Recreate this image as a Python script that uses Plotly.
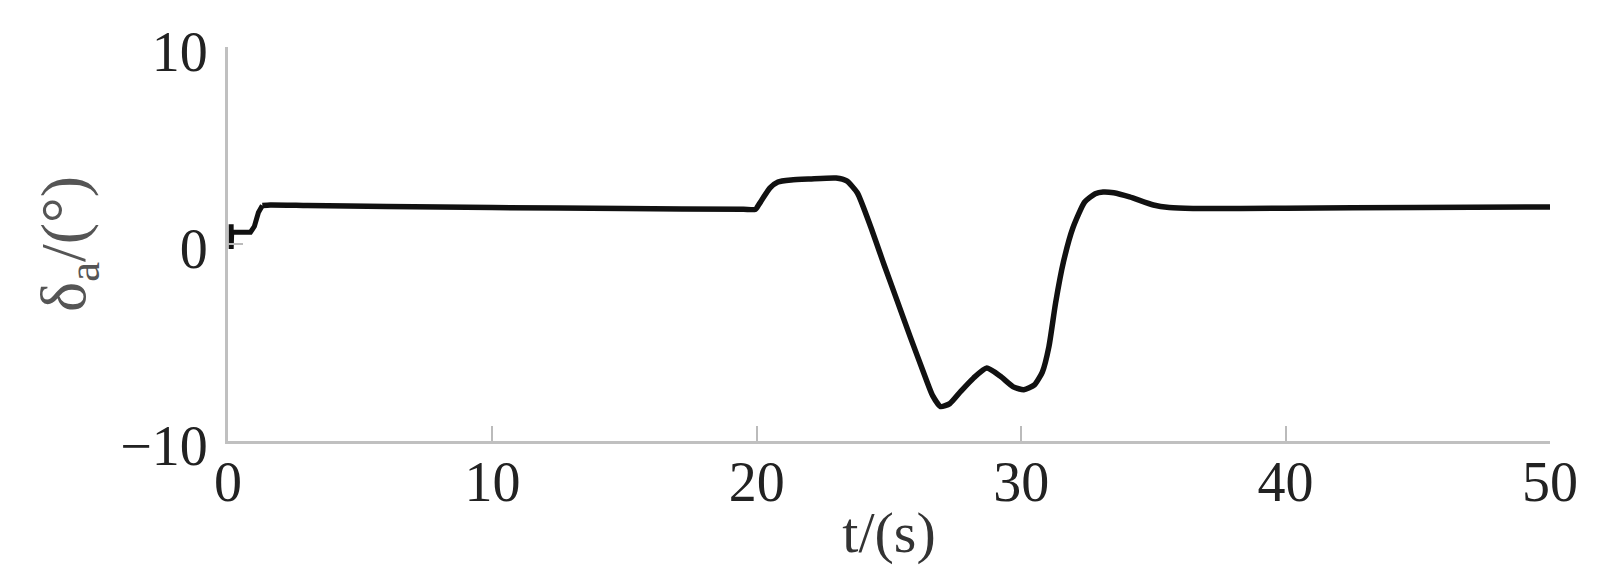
import plotly.graph_objects as go

# time (s) and aileron deflection δa (deg)
t_start = [0.12, 0.12, 0.14, 0.85, 1.0, 1.15, 1.3]
da_start = [1.0, -0.25, 0.6, 0.6, 0.9, 1.6, 1.95]

t_main = [1.3, 1.6, 3, 6, 10, 15, 19.5, 19.95, 20.1, 20.5, 20.8, 21.3, 22, 23, 23.4,
          23.8, 24.3, 24.8, 25.3, 25.8, 26.3, 26.65, 26.95, 27.3, 27.7, 28.2, 28.7,
          29.2, 29.7, 30.1, 30.5, 30.8, 31.05, 31.3, 31.6, 31.95, 32.4, 32.8, 33.1,
          33.5, 34.1, 35.0, 35.6, 36.5, 40, 45, 50]
da_main = [1.95, 1.98, 1.95, 1.9, 1.85, 1.8, 1.76, 1.76, 2.05, 2.85, 3.15, 3.25, 3.3,
           3.35, 3.2, 2.6, 0.9, -1.0, -2.85, -4.7, -6.5, -7.7, -8.25, -8.1, -7.5, -6.8,
           -6.3, -6.7, -7.25, -7.4, -7.15, -6.5, -5.2, -3.0, -0.9, 0.8, 2.13, 2.55, 2.64,
           2.6, 2.39, 1.98, 1.85, 1.8, 1.82, 1.85, 1.88]

x_ticks = [0, 10, 20, 30, 40, 50]
y_ticks = [-10, 0, 10]

fig = go.Figure()
fig.add_trace(go.Scatter(x=t_start, y=da_start, mode="lines",
                         line=dict(color="#111111", width=5), showlegend=False))
fig.add_trace(go.Scatter(x=t_main, y=da_main, mode="lines",
                         line=dict(color="#111111", width=5.5, shape="spline", smoothing=0.55),
                         showlegend=False))

font_fam = "Liberation Serif, Times New Roman, serif"
fig.update_layout(
    width=1621, height=583,
    margin=dict(l=220, r=79, t=39, b=150),
    paper_bgcolor="white", plot_bgcolor="white",
    font=dict(family=font_fam, size=56, color="#222222"),
    xaxis=dict(range=[0, 50], tickvals=x_ticks, ticks="inside", ticklen=15,
               tickwidth=2, tickcolor="#bbbbbb", showline=True, linecolor="#c0c0c0",
               linewidth=3, showgrid=False, zeroline=False, ticklabelstandoff=-10,
               title=dict(text="t/(s)", font=dict(size=58, color="#333333"), standoff=0)),
    yaxis=dict(range=[-10, 10], tickvals=y_ticks, ticks="inside", ticklen=15,
               tickwidth=2, tickcolor="#bbbbbb", showline=True, linecolor="#c0c0c0",
               linewidth=3, showgrid=False, zeroline=False, ticklabelstandoff=6,
               ticklabelshift=4,
               title=dict(text="δ<sub>a</sub>/(°)", font=dict(size=64, color="#555555"),
                          standoff=14)),
)
fig.write_html("out.html")
